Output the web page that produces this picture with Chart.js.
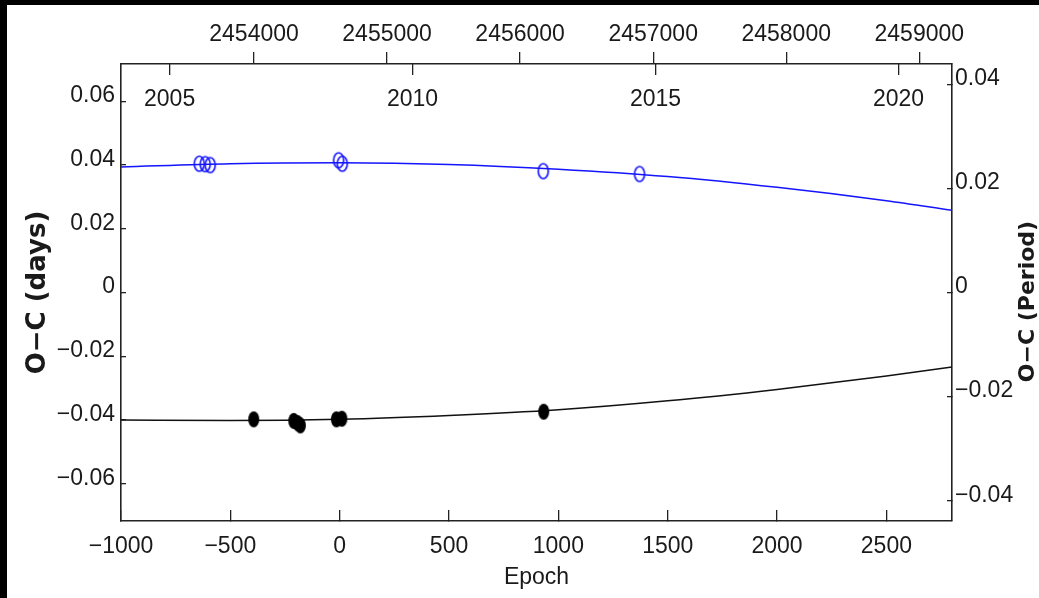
<!DOCTYPE html>
<html>
<head>
<meta charset="utf-8">
<title>O-C diagram</title>
<script src="https://cdn.jsdelivr.net/npm/chart.js@4.4.1/dist/chart.umd.min.js"></script>
<style>
  html, body { margin: 0; padding: 0; background: #000; }
  #wrap { position: absolute; left: 7px; top: 5px; width: 1032px; height: 593px; background: #fff; }
</style>
</head>
<body>
<div id="wrap"><canvas id="ocChart"></canvas></div>
<script>
// fitted curves, every 500 epochs
var curveEpochs = [-1000, -500, 0, 500, 1000, 1500, 2000, 2500, 2800];
var primaryCurve = [0.0394, 0.0404, 0.0407, 0.0402, 0.0387, 0.0364, 0.0330, 0.0288, 0.0258];
var secondaryCurve = [-0.0400, -0.0402, -0.0398, -0.0386, -0.0368, -0.0340, -0.0304, -0.0262, -0.0234];

// observed minima
var primaryEpochs = [-642, -615, -592, -5, 12, 931, 1371];
var primaryOC = [0.0404, 0.0403, 0.0400, 0.0415, 0.0404, 0.0381, 0.0372];
var secondaryEpochs = [-393, -210, -192, -180, -15, 10, 933];
var secondaryOC = [-0.0398, -0.0403, -0.0410, -0.0417, -0.0398, -0.0396, -0.0374];

// axes
var epochTicks = [-1000, -500, 0, 500, 1000, 1500, 2000, 2500];
var jdTicks = [2454000, 2455000, 2456000, 2457000, 2458000, 2459000];
var yearTicks = [2005, 2010, 2015, 2020];
var daysTicks = [-0.06, -0.04, -0.02, 0, 0.02, 0.04, 0.06];
var periodTicks = [-0.04, -0.02, 0, 0.02, 0.04];

var epochRange = [-1000, 2800];
var jdRange = [2453000, 2459246];
var yearRange = [2004.0, 2021.1];
var daysRange = [-0.0717, 0.0717];
var periodRange = [-0.0439, 0.0439];

var fontFamily = "'Liberation Sans Narrow', 'Liberation Sans', Arial, sans-serif";
var tickFont = { family: fontFamily, size: 23 };
var textColor = '#1a1a1a';
var lineColor = '#222';
var blue = 'rgb(20,20,255)';

function pts(xs, ys) {
    return xs.map(function (x, i) { return { x: x, y: ys[i] }; });
}

function fmt(v) {
    return String(Math.round(v * 1000) / 1000).replace('-', '\u2212');
}

function useTicks(list) {
    return function (scale) {
        scale.ticks = list.map(function (v) { return { value: v }; });
    };
}

function ellipse(w, h, color, filled) {
    var c = document.createElement('canvas');
    c.width = w + 4;
    c.height = h + 4;
    var g = c.getContext('2d');
    g.beginPath();
    g.ellipse(c.width / 2, c.height / 2, w / 2, h / 2, 0, 0, 2 * Math.PI);
    if (filled) {
        g.fillStyle = color;
        g.fill();
    } else {
        g.strokeStyle = color;
        g.lineWidth = 1.6;
        g.stroke();
    }
    return c;
}

function grid(len) {
    return { drawOnChartArea: false, drawTicks: true, tickLength: len, color: lineColor, lineWidth: 1.3 };
}

var border = { display: true, color: lineColor, width: 1.6 };

// right axis title reads bottom to top, like the left one
var rightTitle = {
    id: 'rightTitle',
    afterDraw: function (chart) {
        var ctx = chart.ctx;
        var area = chart.chartArea;
        ctx.save();
        ctx.translate(1021.5, (area.top + area.bottom) / 2 + 9);
        ctx.rotate(-Math.PI / 2);
        ctx.font = "bold 22px 'DejaVu Sans'";
        ctx.fillStyle = textColor;
        ctx.textAlign = 'center';
        ctx.textBaseline = 'middle';
        ctx.fillText('O\u2212C (Period)', 0, 0);
        ctx.restore();
    }
};

document.addEventListener('DOMContentLoaded', function () {
    var ctx = document.getElementById('ocChart').getContext('2d');

    new Chart(ctx, {
        type: 'scatter',
        data: {
            datasets: [{
                label: 'Primary minima',
                data: pts(primaryEpochs, primaryOC),
                pointStyle: ellipse(10, 15, blue, false),
                pointRadius: 6
            }, {
                label: 'Secondary minima',
                data: pts(secondaryEpochs, secondaryOC),
                pointStyle: ellipse(11, 16, '#000', true),
                pointRadius: 6
            }, {
                label: 'Primary fit',
                data: pts(curveEpochs, primaryCurve),
                showLine: true,
                pointRadius: 0,
                borderColor: blue,
                borderWidth: 1.5,
                cubicInterpolationMode: 'monotone'
            }, {
                label: 'Secondary fit',
                data: pts(curveEpochs, secondaryCurve),
                showLine: true,
                pointRadius: 0,
                borderColor: '#111',
                borderWidth: 1.5,
                cubicInterpolationMode: 'monotone'
            }]
        },
        options: {
            responsive: true,
            maintainAspectRatio: false,
            animation: false,
            layout: { padding: 0 },
            plugins: {
                legend: { display: false },
                tooltip: { enabled: false }
            },
            scales: {
                x: {
                    type: 'linear',
                    position: 'bottom',
                    min: epochRange[0],
                    max: epochRange[1],
                    afterBuildTicks: useTicks(epochTicks),
                    afterFit: function (s) { s.height = 77; },
                    grid: grid(-11),
                    border: border,
                    ticks: { font: tickFont, color: textColor, padding: 22.7, maxRotation: 0, callback: fmt },
                    title: {
                        display: true,
                        text: 'Epoch',
                        font: tickFont,
                        color: textColor,
                        padding: { top: 0, bottom: 7 }
                    }
                },
                xTop: {
                    type: 'linear',
                    position: 'top',
                    min: jdRange[0],
                    max: jdRange[1],
                    afterBuildTicks: useTicks(jdTicks),
                    afterFit: function (s) { s.height = 59; },
                    grid: grid(12),
                    border: border,
                    ticks: { font: tickFont, color: textColor, padding: 3.2, maxRotation: 0, callback: fmt }
                },
                xYear: {
                    type: 'linear',
                    position: { y: daysRange[1] },
                    min: yearRange[0],
                    max: yearRange[1],
                    afterBuildTicks: useTicks(yearTicks),
                    grid: grid(11),
                    border: { display: false },
                    ticks: { font: tickFont, color: textColor, padding: 11.2, maxRotation: 0, callback: fmt }
                },
                y: {
                    type: 'linear',
                    position: 'left',
                    min: daysRange[0],
                    max: daysRange[1],
                    afterBuildTicks: useTicks(daysTicks),
                    afterFit: function (s) { s.width = 114; },
                    grid: grid(-5),
                    border: border,
                    ticks: {
                        font: { family: fontFamily, size: 23, lineHeight: 0.48 },
                        color: textColor,
                        padding: 11,
                        callback: function (v) { return [fmt(v), '']; }
                    },
                    title: {
                        display: true,
                        text: 'O\u2212C (days)',
                        font: { family: "'DejaVu Sans'", size: 26, weight: 'bold', lineHeight: 1 },
                        color: textColor,
                        padding: { top: 18, bottom: 0 }
                    }
                },
                yRight: {
                    type: 'linear',
                    position: 'right',
                    min: periodRange[0],
                    max: periodRange[1],
                    afterBuildTicks: useTicks(periodTicks),
                    afterFit: function (s) { s.width = 87; },
                    grid: grid(-5),
                    border: border,
                    ticks: {
                        font: { family: fontFamily, size: 23, lineHeight: 0.48 },
                        color: textColor,
                        padding: 8,
                        callback: function (v) { return [fmt(v), '']; }
                    }
                }
            }
        },
        plugins: [rightTitle]
    });
});
</script>
</body>
</html>
